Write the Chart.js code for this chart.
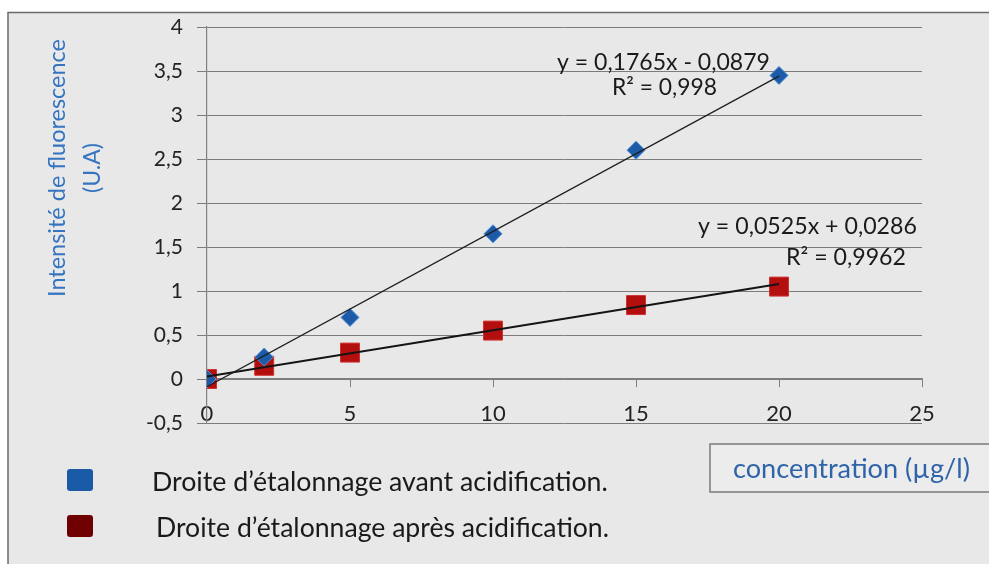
<!DOCTYPE html>
<html>
<head>
<meta charset="utf-8">
<script src="https://cdn.jsdelivr.net/npm/chart.js@4.4.1/dist/chart.umd.min.js"></script>
<style>
  html, body { margin: 0; padding: 0; background: #ffffff; }
  #wrap { position: relative; width: 989px; height: 564px; }
  canvas { display: block; }
</style>
</head>
<body>
<div id="wrap"><canvas id="c" width="989" height="564"></canvas></div>
<script>
// ---- data ----
const concentrations = [0, 2, 5, 10, 15, 20];
const avantValues = [0, 0.25, 0.7, 1.65, 2.6, 3.45];
const apresValues = [0, 0.15, 0.3, 0.55, 0.84, 1.05];
// trend lines (endpoints from the displayed equations)
const trendAvantX = [0, 20];
const trendAvantY = [-0.088, 3.442];
const trendApresX = [0, 20];
const trendApresY = [0.029, 1.079];
const yTicks = [-0.5, 0, 0.5, 1, 1.5, 2, 2.5, 3, 3.5, 4];
const xTicks = [0, 5, 10, 15, 20, 25];
const seriesNames = ["Droite d\u2019étalonnage avant acidification.", "Droite d\u2019étalonnage après acidification."];
const eqAvant = ["y = 0,1765x - 0,0879", "R\u00b2 = 0,998"];
const eqApres = ["y = 0,0525x + 0,0286", "R\u00b2 = 0,9962"];
const yTitle = ["Intensité de fluorescence", "(U.A)"];
const xTitle = "concentration (\u00b5g/l)";

const pts = (xs, ys) => xs.map((x, i) => ({ x: x, y: ys[i] }));
const fmt = v => String(v).replace('.', ',');
const FONT = 'Lato, "Open Sans", sans-serif';

// draw text so that it spans a given width (font size adapted)
function fitText(ctx, text, x, y, width, maxSize) {
  ctx.font = '100px ' + FONT;
  const w = ctx.measureText(text).width;
  let size = 100 * width / w;
  if (maxSize && size > maxSize) size = maxSize;
  ctx.font = size.toFixed(2) + 'px ' + FONT;
  ctx.fillText(text, x, y);
}

const decorPlugin = {
  id: 'decor',
  beforeDraw(chart) {
    const ctx = chart.ctx;
    ctx.save();
    ctx.fillStyle = '#ffffff';
    ctx.fillRect(0, 0, chart.width, chart.height);
    ctx.fillStyle = '#e8e8e8';
    ctx.fillRect(8, 12, 990, 560);
    ctx.strokeStyle = '#6a6a6a';
    ctx.lineWidth = 1.5;
    ctx.strokeRect(8, 12.5, 990, 560);
    ctx.restore();
  },
  afterDraw(chart) {
    const ctx = chart.ctx;
    ctx.save();
    ctx.textBaseline = 'middle';
    // y axis title
    ctx.fillStyle = '#3474c0';
    ctx.textAlign = 'center';
    const cy = 168;
    ctx.save();
    ctx.translate(57, cy);
    ctx.rotate(-Math.PI / 2);
    fitText(ctx, yTitle[0], 0, 0, 258);
    ctx.restore();
    ctx.save();
    ctx.translate(93, cy);
    ctx.rotate(-Math.PI / 2);
    fitText(ctx, yTitle[1], 0, 0, 50);
    ctx.restore();
    // equations
    ctx.fillStyle = '#1a1a1a';
    ctx.textAlign = 'left';
    fitText(ctx, eqAvant[0], 557, 63, 213);
    fitText(ctx, eqAvant[1], 612, 88, 105);
    fitText(ctx, eqApres[0], 698, 227, 219);
    fitText(ctx, eqApres[1], 786, 258, 120);
    // legend
    const legCols = ['#1a5aa6', '#6e0000'];
    const legY = [482, 528];
    const legX = [152, 156];
    const legW = [456, 453];
    legCols.forEach((c, i) => {
      ctx.fillStyle = c;
      ctx.beginPath();
      ctx.roundRect(67, legY[i] - 13, 26, 22, 3);
      ctx.fill();
      ctx.fillStyle = '#1a1a1a';
      fitText(ctx, seriesNames[i], legX[i], legY[i], legW[i]);
    });
    // x title box
    ctx.fillStyle = '#ececec';
    ctx.fillRect(710, 444, 290, 48);
    ctx.strokeStyle = '#7a7a7a';
    ctx.lineWidth = 1.5;
    ctx.strokeRect(710, 444, 290, 48);
    ctx.fillStyle = '#2f64a8';
    fitText(ctx, xTitle, 733, 469, 237);
    ctx.restore();
  }
};

new Chart(document.getElementById('c'), {
  type: 'scatter',
  data: {
    datasets: [
      { label: 'trendAvant', type: 'line', data: pts(trendAvantX, trendAvantY), borderColor: '#1e1e1e', borderWidth: 1.3, pointRadius: 0, fill: false, order: 0 },
      { label: 'trendApres', type: 'line', data: pts(trendApresX, trendApresY), borderColor: '#141414', borderWidth: 2, pointRadius: 0, fill: false, order: 0 },
      { label: seriesNames[0], data: pts(concentrations, avantValues), pointStyle: 'rectRot', pointRadius: 9, pointBackgroundColor: '#1d5aa8', pointBorderColor: '#4f8fd6', pointBorderWidth: 1, order: 1 },
      { label: seriesNames[1], data: pts(concentrations, apresValues), pointStyle: 'rect', pointRadius: 13.4, pointBackgroundColor: '#b30f0f', pointBorderColor: '#d03030', pointBorderWidth: 1, order: 1 }
    ]
  },
  options: {
    responsive: false,
    animation: false,
    layout: { padding: { left: 0, right: 67, top: 27, bottom: 141 } },
    plugins: { legend: { display: false }, tooltip: { enabled: false } },
    scales: {
      x: {
        type: 'linear',
        position: { y: 0 },
        min: 0, max: 25,
        afterBuildTicks: s => { s.ticks = xTicks.map(v => ({ value: v })); },
        ticks: { color: '#222', font: { family: FONT, size: 22 }, padding: 14, callback: v => fmt(v) },
        grid: { drawOnChartArea: false, drawTicks: true, tickLength: 8, color: '#808080' },
        border: { color: '#808080', width: 1.2 }
      },
      y: {
        type: 'linear',
        min: -0.5, max: 4,
        afterBuildTicks: s => { s.ticks = yTicks.map(v => ({ value: v })); },
        afterFit: s => { s.width = 207; },
        ticks: { color: '#222', font: { family: FONT, size: 21 }, padding: 14, callback: v => fmt(v) },
        grid: { color: '#7c7c7c', lineWidth: 1, tickLength: 10 },
        border: { color: '#808080', width: 1.2 }
      }
    }
  },
  plugins: [decorPlugin]
});
</script>
</body>
</html>
